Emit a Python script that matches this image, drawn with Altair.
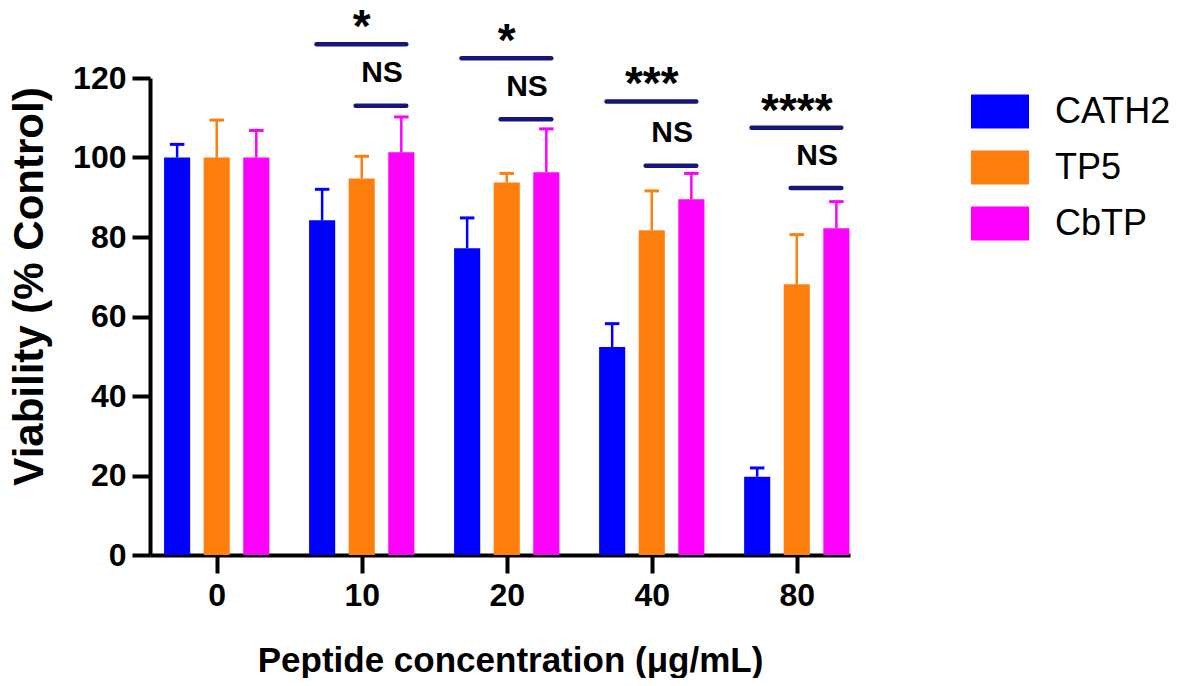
import altair as alt
import pandas as pd

# ---------------- data ----------------
concentrations = ["0", "10", "20", "40", "80"]
series_names = ["CATH2", "TP5", "CbTP"]
series_colors = ["#0000FF", "#FF7F0E", "#FF00FF"]

cath2_mean = [100.0, 84.2, 77.2, 52.3, 19.7]
cath2_err = [3.3, 7.8, 7.6, 5.9, 2.2]
tp5_mean = [100.0, 94.7, 93.7, 81.7, 68.1]
tp5_err = [9.4, 5.6, 2.3, 9.9, 12.5]
cbtp_mean = [100.0, 101.3, 96.3, 89.5, 82.2]
cbtp_err = [6.8, 8.9, 10.9, 6.5, 6.7]

sig_group = ["10", "20", "40", "80"]
sig_all_level = [128.5, 125.0, 114.1, 107.5]
sig_all_label = ["*", "*", "***", "****"]
sig_pair_level = [113.0, 109.6, 97.9, 92.3]
sig_pair_label = ["NS", "NS", "NS", "NS"]

y_ticks = [0, 20, 40, 60, 80, 100, 120]

# ---------------- tables ----------------
means = [cath2_mean, tp5_mean, cbtp_mean]
errs = [cath2_err, tp5_err, cbtp_err]
rows = []
for gi, c in enumerate(concentrations):
    for si, s in enumerate(series_names):
        rows.append({"gi": gi, "si": si, "conc": c, "series": s,
                     "value": means[si][gi], "err": errs[si][gi]})
df = pd.DataFrame(rows)

sig_rows = []
for k, g in enumerate(sig_group):
    sig_rows.append({"gi": concentrations.index(g),
                     "all_level": sig_all_level[k], "all_label": sig_all_label[k],
                     "pair_level": sig_pair_level[k], "pair_label": sig_pair_label[k]})
sig = pd.DataFrame(sig_rows)

FONT = "Liberation Sans, Arial, Helvetica, sans-serif"
NAVY = "#16167a"

xscale = alt.Scale(domain=[-0.46, 4.367], nice=False, zero=False)
yscale = alt.Scale(domain=[0, 120], nice=False)
XT = "Peptide concentration (μg/mL)"
YT = "Viability (% Control)"
label_expr = "[" + ",".join("'%s'" % c for c in concentrations) + "][datum.value]"

x_axis = alt.Axis(values=list(range(len(concentrations))), labelExpr=label_expr,
                  labelFontSize=32, labelPadding=7, titleFontSize=35,
                  titleX=360, titleY=116, titleAlign="center", titleBaseline="alphabetic")
y_axis = alt.Axis(values=y_ticks, labelFontSize=32, labelPadding=6, titleFontSize=42,
                  titleAngle=270, titleX=-108, titleY=208, titleAlign="center",
                  titleBaseline="alphabetic")

color_scale = alt.Scale(domain=series_names, range=series_colors)

base = alt.Chart(df).transform_calculate(
    xc="datum.gi + (datum.si - 1) * 0.273"
).transform_calculate(
    x0="datum.xc - 0.09", x1="datum.xc + 0.09",
    c0="datum.xc - 0.05", c1="datum.xc + 0.05",
    top="datum.value + datum.err"
)

bars = base.mark_bar().encode(
    x=alt.X("x0:Q", scale=xscale, axis=x_axis, title=XT),
    x2="x1:Q",
    y=alt.Y("value:Q", scale=yscale, axis=y_axis, title=YT),
    y2=alt.datum(0),
    color=alt.Color("series:N", scale=color_scale, sort=series_names,
                    legend=alt.Legend(title=None, orient="none", legendX=821, legendY=4.5,
                                      symbolType="M-1,-0.586H1V0.586H-1Z", symbolSize=3364,
                                      symbolStrokeWidth=0, labelFontSize=36, labelFont=FONT,
                                      labelFontWeight="normal", labelColor="black",
                                      labelOffset=26, rowPadding=9, padding=0)),
)

err_line = base.mark_rule(strokeWidth=2.5).encode(
    x=alt.X("xc:Q", scale=xscale, title=XT),
    y=alt.Y("value:Q", scale=yscale, title=YT),
    y2="top:Q",
    stroke=alt.Stroke("series:N", scale=color_scale, legend=None),
)

err_cap = base.mark_rule(strokeWidth=3).encode(
    x=alt.X("c0:Q", scale=xscale, title=XT),
    x2="c1:Q",
    y=alt.Y("top:Q", scale=yscale, title=YT),
    stroke=alt.Stroke("series:N", scale=color_scale, legend=None),
)

sig_base = alt.Chart(sig).transform_calculate(
    a0="datum.gi - 0.312", a1="datum.gi + 0.307",
    p0="datum.gi - 0.042", p1="datum.gi + 0.307",
    ns_x="datum.gi + 0.14",
    star_y="datum.all_level + 0.5",
    ns_y="datum.pair_level + 5.9",
)

all_line = sig_base.mark_rule(strokeWidth=4.5, color=NAVY, strokeCap="round").encode(
    x=alt.X("a0:Q", scale=xscale, title=XT), x2="a1:Q",
    y=alt.Y("all_level:Q", scale=yscale, title=YT),
)
pair_line = sig_base.mark_rule(strokeWidth=4.5, color=NAVY, strokeCap="round").encode(
    x=alt.X("p0:Q", scale=xscale, title=XT), x2="p1:Q",
    y=alt.Y("pair_level:Q", scale=yscale, title=YT),
)
star_text = sig_base.mark_text(font=FONT, fontSize=46, fontWeight="bold", color="black",
                               align="center", baseline="alphabetic").encode(
    x=alt.X("gi:Q", scale=xscale, title=XT),
    y=alt.Y("star_y:Q", scale=yscale, title=YT),
    text="all_label:N",
)
ns_text = sig_base.mark_text(font=FONT, fontSize=30, fontWeight="bold", color="black",
                             align="center", baseline="alphabetic").encode(
    x=alt.X("ns_x:Q", scale=xscale, title=XT),
    y=alt.Y("ns_y:Q", scale=yscale, title=YT),
    text="pair_label:N",
)

chart = alt.layer(bars, err_line, err_cap, all_line, pair_line, star_text, ns_text).properties(
    width=700, height=477,
    autosize="none",
    background="white",
    padding={"left": 142, "top": 70, "right": 323, "bottom": 123},
).configure_axis(
    labelFont=FONT, labelFontWeight="bold", labelColor="black",
    titleFont=FONT, titleFontWeight="bold", titleColor="black",
    domainColor="black", domainWidth=4, tickColor="black", tickWidth=4, tickSize=18,
    grid=False,
).configure_view(strokeWidth=0)

chart.save("out.html", embed_options={"renderer": "svg", "actions": False})
